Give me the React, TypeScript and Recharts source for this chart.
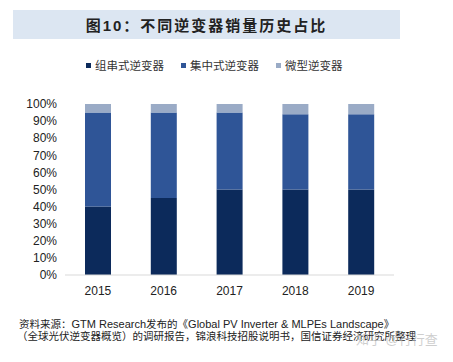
import { Bar, BarChart, XAxis, YAxis } from "recharts";

const years = ["2015", "2016", "2017", "2018", "2019"];
const stringInv = [40, 45, 50, 50, 50];
const centralInv = [55, 50, 45, 44, 44];
const microInv = [5, 5, 5, 6, 6];
const yTicks = [0, 10, 20, 30, 40, 50, 60, 70, 80, 90, 100];

const seriesNames = ["组串式逆变器", "集中式逆变器", "微型逆变器"];
const colors = ["#0c2a5b", "#2f5597", "#9aabc6"];

const data = years.map((year, i) => ({
  year,
  string: stringInv[i],
  central: centralInv[i],
  micro: microInv[i],
}));

const font = '"Liberation Sans", Arial, "Noto Sans CJK SC", sans-serif';

function LegendRow() {
  return (
    <div
      style={{
        position: "absolute",
        top: 57,
        left: 86,
        display: "flex",
        fontFamily: font,
        fontSize: 11.5,
        color: "#333",
      }}
    >
      {seriesNames.map((name, i) => (
        <div
          key={name}
          style={{ display: "flex", alignItems: "center", width: 95 }}
        >
          <span
            style={{
              display: "inline-block",
              width: 5,
              height: 5,
              background: colors[i],
              marginRight: 4,
            }}
          />
          {name}
        </div>
      ))}
    </div>
  );
}

export default function App() {
  return (
    <div
      style={{
        position: "absolute",
        top: 0,
        left: 0,
        width: 453,
        height: 362,
        background: "#fff",
        overflow: "hidden",
      }}
    >
      <div
        style={{
          position: "absolute",
          top: 10,
          left: 13,
          width: 387,
          height: 29,
          background: "#dce6f2",
          display: "flex",
          alignItems: "center",
          justifyContent: "center",
          fontFamily: font,
          fontWeight: "bold",
          fontSize: 15,
          letterSpacing: 2,
          color: "#222",
        }}
      >
        图10：不同逆变器销量历史占比
      </div>
      <LegendRow />
      <BarChart
        width={453}
        height={362}
        data={data}
        margin={{ top: 104, right: 59, left: 15, bottom: 57 }}
        style={{ position: "absolute", top: 0, left: 0 }}
      >
        <XAxis
          dataKey="year"
          axisLine={{ stroke: "#d9d9d9" }}
          tickLine={false}
          tickMargin={5}
          height={30}
          tick={{ fontSize: 12, fill: "#222", fontFamily: font }}
        />
        <YAxis
          width={50}
          domain={[0, 100]}
          ticks={yTicks}
          interval={0}
          axisLine={false}
          tickLine={false}
          tickFormatter={(v) => `${v}%`}
          tick={{ fontSize: 12, fill: "#222", fontFamily: font }}
        />
        <Bar
          dataKey="string"
          stackId="a"
          fill={colors[0]}
          barSize={26}
          isAnimationActive={false}
        />
        <Bar
          dataKey="central"
          stackId="a"
          fill={colors[1]}
          barSize={26}
          isAnimationActive={false}
        />
        <Bar
          dataKey="micro"
          stackId="a"
          fill={colors[2]}
          barSize={26}
          isAnimationActive={false}
        />
      </BarChart>
      <div
        style={{
          position: "absolute",
          top: 318,
          left: 19,
          fontFamily: font,
          fontSize: 10.5,
          lineHeight: "12px",
          color: "#222",
          whiteSpace: "nowrap",
        }}
      >
        <div>
          资料来源：
          <span style={{ fontSize: 11 }}>GTM Research</span>
          发布的《
          <span style={{ fontSize: 11 }}>
            Global PV Inverter &amp; MLPEs Landscape
          </span>
          》
        </div>
        <div style={{ marginLeft: -2 }}>
          （全球光伏逆变器概览）的调研报告，锦浪科技招股说明书，国信证券经济研究所整理
        </div>
      </div>
      <div
        style={{
          position: "absolute",
          top: 329,
          left: 356,
          fontFamily: font,
          fontSize: 13,
          color: "rgba(190,190,190,0.75)",
          whiteSpace: "nowrap",
        }}
      >
        知乎 @行行查
      </div>
    </div>
  );
}
